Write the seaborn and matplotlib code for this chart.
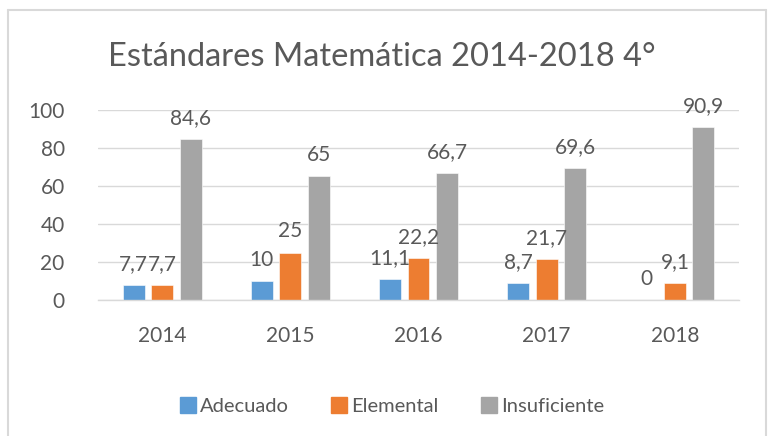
import pandas as pd
import matplotlib
matplotlib.use("Agg")
import matplotlib.pyplot as plt
from matplotlib.lines import Line2D
import seaborn as sns

# data
years = ["2014", "2015", "2016", "2017", "2018"]
levels = ["Adecuado", "Elemental", "Insuficiente"]
adecuado = [7.7, 10, 11.1, 8.7, 0]
elemental = [7.7, 25, 22.2, 21.7, 9.1]
insuficiente = [84.6, 65, 66.7, 69.6, 90.9]
colors = ["#5B9BD5", "#ED7D31", "#A5A5A5"]

df = pd.DataFrame({
    "year": years * 3,
    "level": [levels[0]] * 5 + [levels[1]] * 5 + [levels[2]] * 5,
    "value": adecuado + elemental + insuficiente,
})

sns.set_theme(style="white")
plt.rcParams["font.family"] = ["Lato", "DejaVu Sans"]
text_col = "#595959"

fig = plt.figure(figsize=(7.68, 4.36), dpi=100)
ax = fig.add_axes([98 / 768, 1 - 300 / 436, 641 / 768, 190 / 436])

sns.barplot(data=df, x="year", y="value", hue="level", order=years, hue_order=levels,
            palette=colors, width=0.668, gap=0.23, saturation=1, errorbar=None,
            edgecolor="white", linewidth=0.4, ax=ax)

for cont in ax.containers:
    labels = [f"{b.get_height():g}".replace(".", ",") for b in cont]
    ax.bar_label(cont, labels=labels, padding=8, fontsize=15, color=text_col, clip_on=False)

ax.set_ylim(0, 100)
ax.set_yticks([0, 20, 40, 60, 80, 100])
ax.yaxis.grid(True, color="#D9D9D9", linewidth=1)
ax.set_axisbelow(True)
for s in ["left", "right", "top"]:
    ax.spines[s].set_visible(False)
ax.spines["bottom"].set_color("#D9D9D9")
ax.spines["bottom"].set_linewidth(1)
ax.tick_params(axis="y", length=0, pad=24, labelsize=15, labelcolor=text_col)
ax.tick_params(axis="x", length=0, pad=19, labelsize=15, labelcolor=text_col)
ax.set_xlabel("")
ax.set_ylabel("")

fig.text(382 / 768, 1 - 57 / 436, "Estándares Matemática 2014-2018 4°", ha="center", va="center",
         fontsize=23.5, color=text_col)

handles = [Line2D([], [], marker="s", linestyle="none", markersize=11, color=c) for c in colors]
ax.legend_.remove()
fig.legend(handles, levels, loc="center", bbox_to_anchor=(391 / 768, 1 - 406 / 436), ncol=3,
           frameon=False, fontsize=14.5, labelcolor=text_col, handletextpad=0.1,
           columnspacing=2.0, handlelength=1.0)

# outer chart border (bottom edge is cut off in the reference)
border = "#D9D9D9"
fig.add_artist(Line2D([8 / 768, 766 / 768], [1 - 10 / 436] * 2, color=border, lw=1.5))
fig.add_artist(Line2D([8 / 768] * 2, [0, 1 - 10 / 436], color=border, lw=1.5))
fig.add_artist(Line2D([766 / 768] * 2, [0, 1 - 10 / 436], color=border, lw=1.5))

fig.savefig("out.png", dpi=100)
